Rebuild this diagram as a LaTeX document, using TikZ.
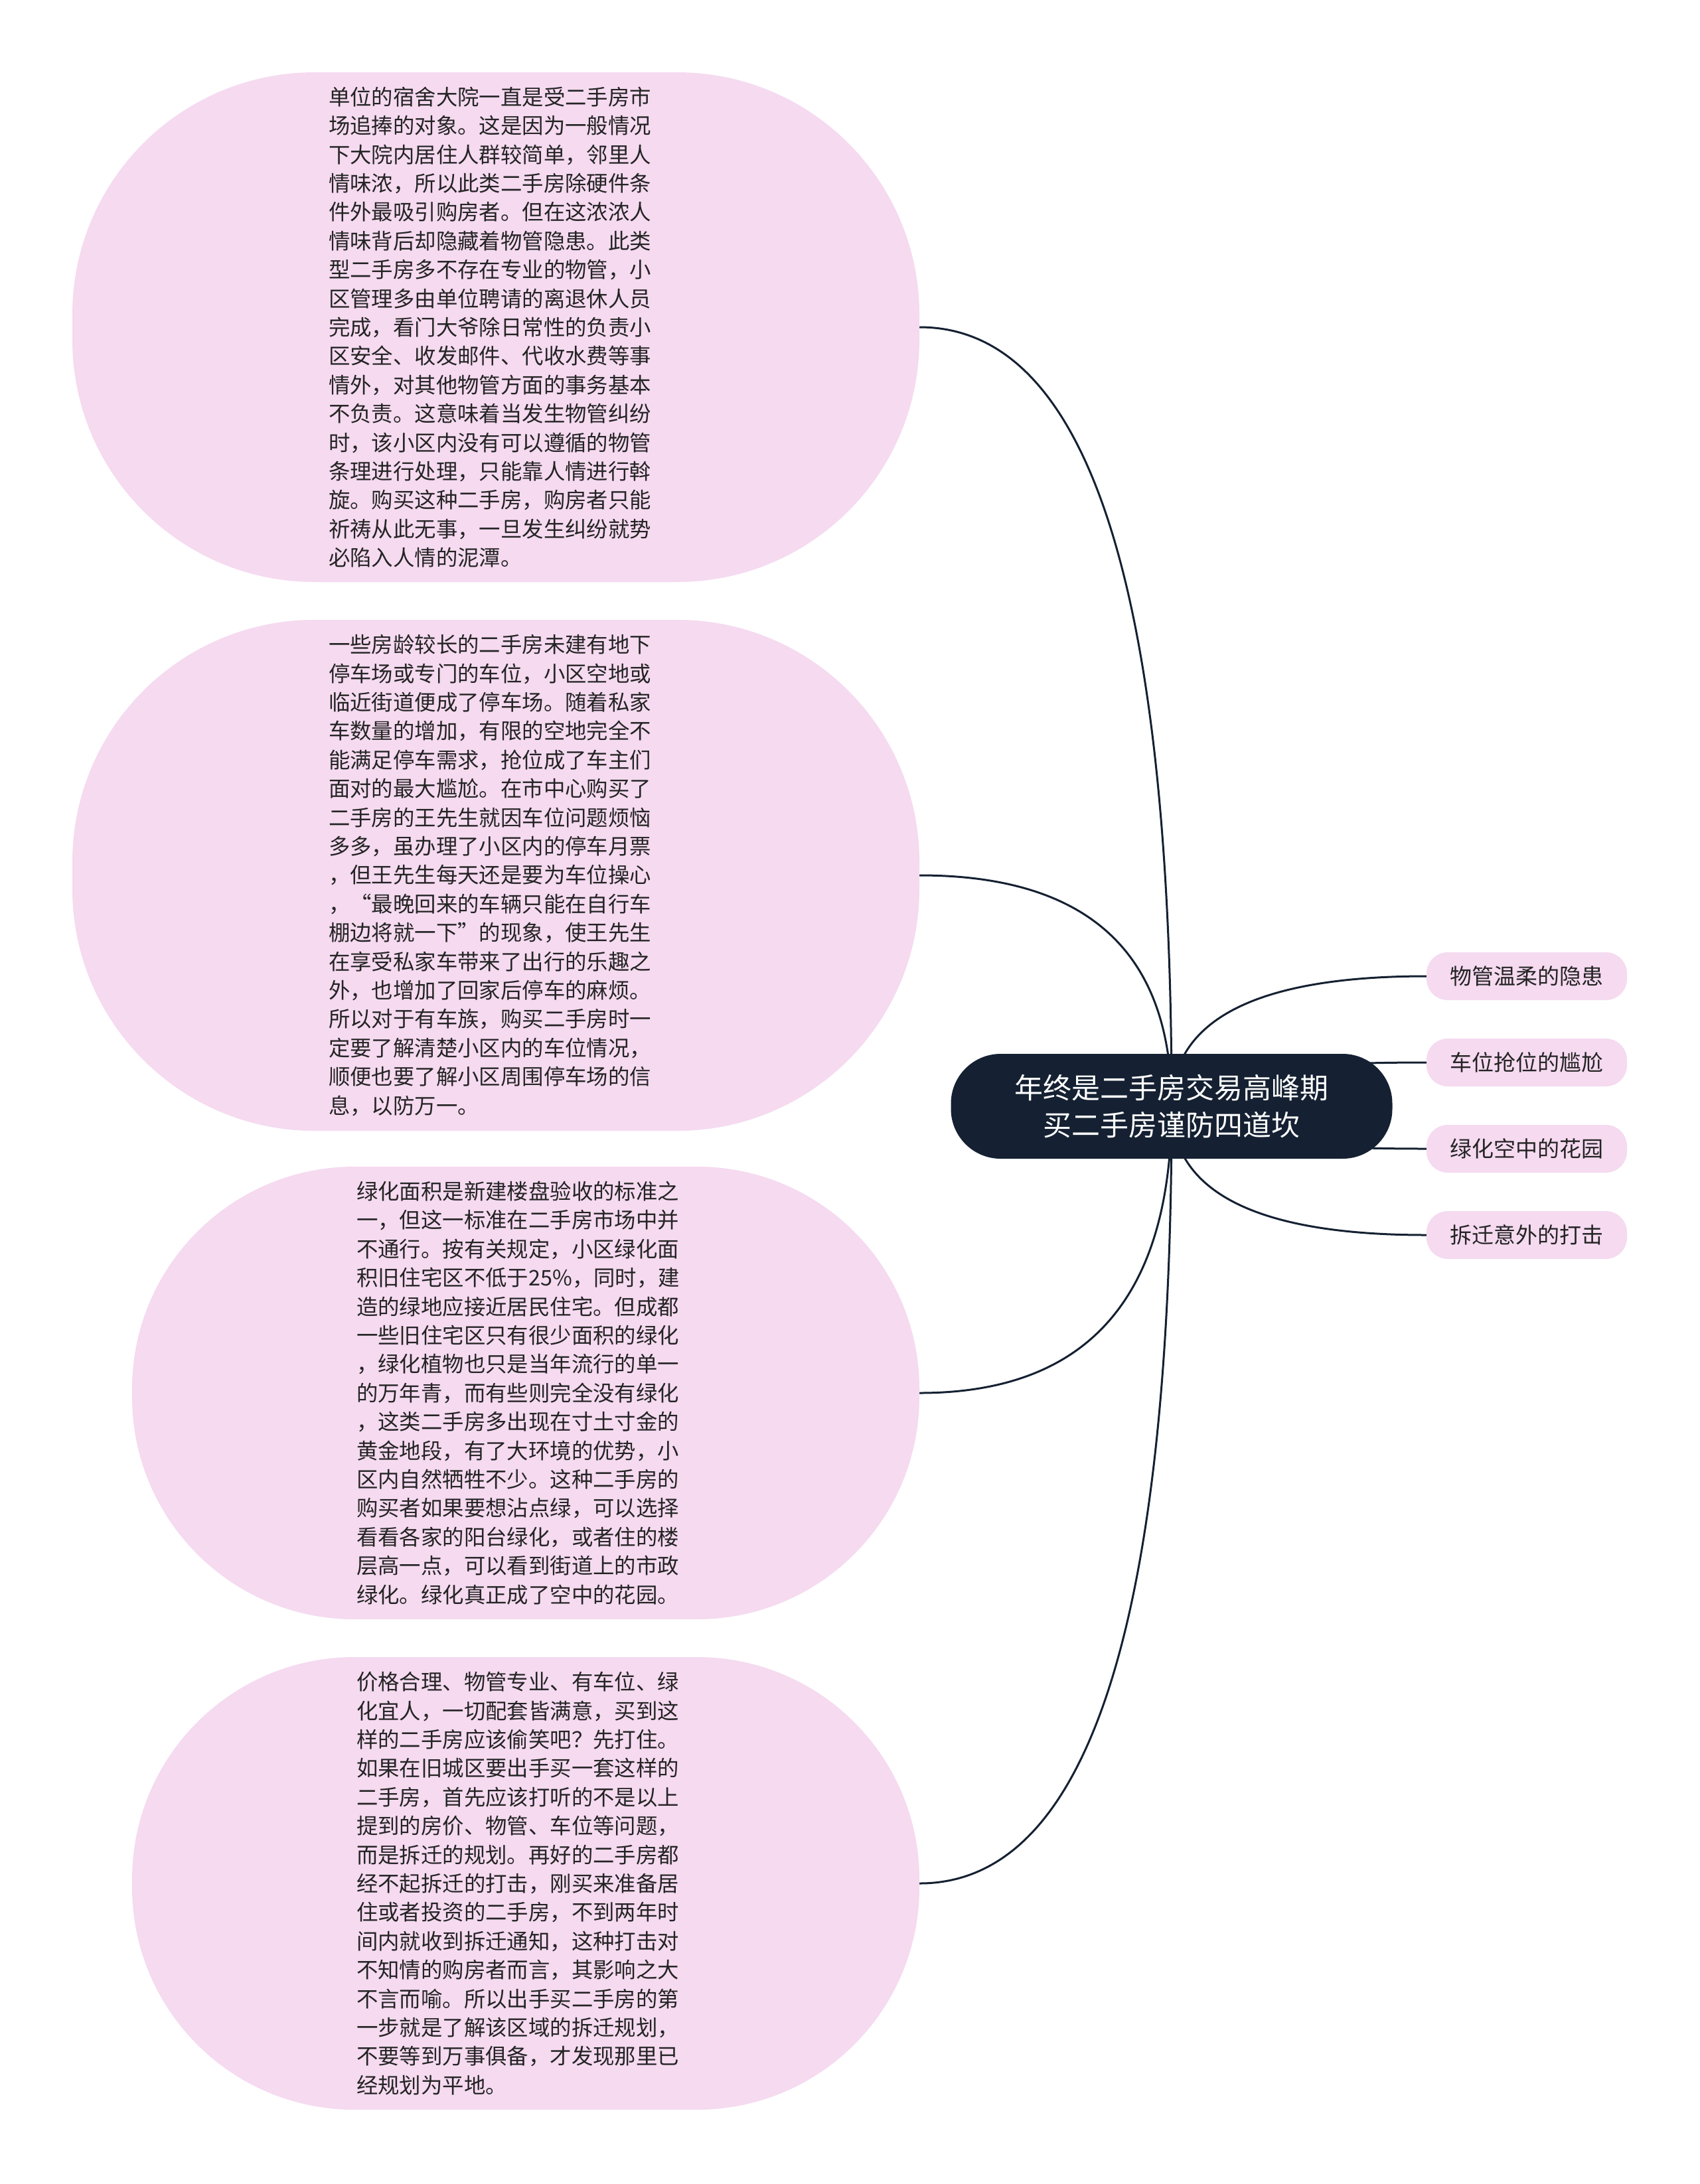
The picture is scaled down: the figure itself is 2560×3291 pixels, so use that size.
\documentclass[tikz,border=0pt]{standalone}
\usepackage{fontspec}
\setmainfont{Noto Sans CJK SC}
\usetikzlibrary{calc,backgrounds}
\definecolor{pinkfill}{RGB}{245,218,240}
\definecolor{navy}{RGB}{21,33,50}
\definecolor{txt}{RGB}{36,36,36}
\begin{document}
\begin{tikzpicture}[x=1pt,y=-1pt,
  bigbox/.style={fill=pinkfill, draw=none, inner sep=0pt, text=txt, align=left,
    font=\fontsize{32.4}{43.4}\selectfont},
  leaf/.style={fill=pinkfill, rounded corners=32pt, minimum width=302pt, minimum height=72pt,
    inner sep=0pt, text=txt, font=\fontsize{33}{40}\selectfont},
  rootbox/.style={fill=navy, rounded corners=75pt, minimum width=665pt, minimum height=158pt,
    inner sep=0pt, text=white, align=center, font=\fontsize{43}{56.7}\selectfont},
  link/.style={draw=navy, line width=3pt}]
\useasboundingbox (0,0) rectangle (2560,3291);

\node[rootbox] (root) at (1765,1667) {年终是二手房交易高峰期\\买二手房谨防四道坎};

\node[bigbox, minimum width=1276pt, minimum height=768pt, rounded corners=365pt, text width=504pt] (n1) at (747,493) {单位的宿舍大院一直是受二手房市\\场追捧的对象。这是因为一般情况\\下大院内居住人群较简单，邻里人\\情味浓，所以此类二手房除硬件条\\件外最吸引购房者。但在这浓浓人\\情味背后却隐藏着物管隐患。此类\\型二手房多不存在专业的物管，小\\区管理多由单位聘请的离退休人员\\完成，看门大爷除日常性的负责小\\区安全、收发邮件、代收水费等事\\情外，对其他物管方面的事务基本\\不负责。这意味着当发生物管纠纷\\时，该小区内没有可以遵循的物管\\条理进行处理，只能靠人情进行斡\\旋。购买这种二手房，购房者只能\\祈祷从此无事，一旦发生纠纷就势\\必陷入人情的泥潭。};

\node[bigbox, minimum width=1276pt, minimum height=770pt, rounded corners=365pt, text width=504pt] (n2) at (747,1319) {一些房龄较长的二手房未建有地下\\停车场或专门的车位，小区空地或\\临近街道便成了停车场。随着私家\\车数量的增加，有限的空地完全不\\能满足停车需求，抢位成了车主们\\面对的最大尴尬。在市中心购买了\\二手房的王先生就因车位问题烦恼\\多多，虽办理了小区内的停车月票\\，但王先生每天还是要为车位操心\\，“最晚回来的车辆只能在自行车\\棚边将就一下”的现象，使王先生\\在享受私家车带来了出行的乐趣之\\外，也增加了回家后停车的麻烦。\\所以对于有车族，购买二手房时一\\定要了解清楚小区内的车位情况，\\顺便也要了解小区周围停车场的信\\息，以防万一。};

\node[bigbox, minimum width=1186pt, minimum height=682pt, rounded corners=335pt, text width=510pt] (n3) at (792,2099) {绿化面积是新建楼盘验收的标准之\\一，但这一标准在二手房市场中并\\不通行。按有关规定，小区绿化面\\积旧住宅区不低于25\%，同时，建\\造的绿地应接近居民住宅。但成都\\一些旧住宅区只有很少面积的绿化\\，绿化植物也只是当年流行的单一\\的万年青，而有些则完全没有绿化\\，这类二手房多出现在寸土寸金的\\黄金地段，有了大环境的优势，小\\区内自然牺牲不少。这种二手房的\\购买者如果要想沾点绿，可以选择\\看看各家的阳台绿化，或者住的楼\\层高一点，可以看到街道上的市政\\绿化。绿化真正成了空中的花园。};

\node[bigbox, minimum width=1186pt, minimum height=682pt, rounded corners=335pt, text width=510pt] (n4) at (792,2838) {价格合理、物管专业、有车位、绿\\化宜人，一切配套皆满意，买到这\\样的二手房应该偷笑吧？先打住。\\如果在旧城区要出手买一套这样的\\二手房，首先应该打听的不是以上\\提到的房价、物管、车位等问题，\\而是拆迁的规划。再好的二手房都\\经不起拆迁的打击，刚买来准备居\\住或者投资的二手房，不到两年时\\间内就收到拆迁通知，这种打击对\\不知情的购房者而言，其影响之大\\不言而喻。所以出手买二手房的第\\一步就是了解该区域的拆迁规划，\\不要等到万事俱备，才发现那里已\\经规划为平地。};

\node[leaf] (l1) at (2300,1471) {物管温柔的隐患};
\node[leaf] (l2) at (2300,1601) {车位抢位的尴尬};
\node[leaf] (l3) at (2300,1731) {绿化空中的花园};
\node[leaf] (l4) at (2300,1861) {拆迁意外的打击};

\begin{scope}[on background layer]
\fill[white] (0,0) rectangle (2560,3291);
\foreach \n in {n1,n2,n3,n4}{
  \draw[link] (root.center) .. controls ($(root.center)!0.667!(root.center |- \n.east)$)
    and ($(\n.east)!0.667!(root.center |- \n.east)$) .. (\n.east);
}
\foreach \n in {l1,l2,l3,l4}{
  \draw[link] (root.center) .. controls ($(root.center)!0.667!(root.center |- \n.west)$)
    and ($(\n.west)!0.667!(root.center |- \n.west)$) .. (\n.west);
}
\end{scope}
\end{tikzpicture}
\end{document}
